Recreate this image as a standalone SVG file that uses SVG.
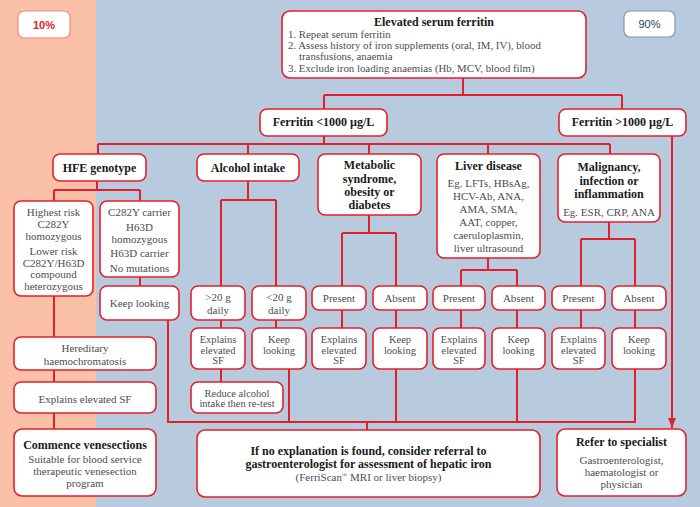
<svg xmlns="http://www.w3.org/2000/svg" width="700" height="507" viewBox="0 0 700 507">
<defs>
<marker id="arr" markerWidth="10" markerHeight="8" refX="10" refY="4" orient="auto" markerUnits="userSpaceOnUse" viewBox="0 0 10 8">
<path d="M0,0 L10,4 L0,8 Z" fill="#E3202A"/>
</marker>
<style>
.box{fill:#fff;stroke:#E3202A;stroke-width:1.6}
.h{font-family:"Liberation Serif",serif;font-weight:bold;font-size:12px;fill:#1a1a1a;text-anchor:middle}
.b{font-family:"Liberation Serif",serif;font-size:11px;fill:#4d4d4d;text-anchor:middle}
.s{font-family:"Liberation Serif",serif;font-size:10.5px;fill:#4d4d4d;text-anchor:middle}
.l{font-family:"Liberation Serif",serif;font-size:10.8px;fill:#4d4d4d}
.c{fill:none;stroke:#E3202A;stroke-width:2}
</style>
</defs>
<rect x="0" y="0" width="700" height="507" fill="#B8CADE"/>
<rect x="0" y="0" width="96" height="507" fill="#FBC1A8"/>

<g id="badge10"><rect x="18" y="11" width="52" height="27" rx="6" fill="#fff" stroke="#F08A8A" stroke-width="1.2"/><text x="44" y="28.5" font-family="Liberation Sans, sans-serif" font-weight="bold" font-size="11" fill="#E3202A" text-anchor="middle">10%</text></g>
<g id="badge90"><rect x="624" y="11" width="51" height="26" rx="6" fill="#fff" stroke="#7E98B8" stroke-width="1.2"/><text x="649.5" y="28" font-family="Liberation Sans, sans-serif" font-size="11" fill="#2B3E66" text-anchor="middle">90%</text></g>

<g id="connectors">
<path class="c" d="M463 78 V95 M324 95 H622 M324 95 V109 M622 95 V109"/>
<path class="c" d="M324 136 V144 M98 144 H610 M98 144 V154 M248 144 V154 M369 144 V154 M488 144 V154 M610 144 V154"/>
<path class="c" d="M97 181 V190 M54 190 H140 M54 190 V201 M140 190 V201 M140 277 V286"/>
<path class="c" d="M54 296 V337 M54 370 V382 M54 413 V429"/>
<path class="c" d="M168 320 V422 H636 M367 422 V430"/>
<path class="c" d="M248 181 V200 M221 200 H276 M221 200 V286 M276 200 V286 M221 320 V328 M276 320 V328 M221 369 V382 M289 369 V422"/>
<path class="c" d="M369 215 V233 M342 233 H396 M342 233 V286 M396 233 V286 M342 310 V328 M396 310 V328 M396 369 V422"/>
<path class="c" d="M488 258 V270 M461 270 H517 M461 270 V286 M517 270 V286 M461 310 V328 M517 310 V328 M517 369 V422"/>
<path class="c" d="M609 222 V239 M581 239 H635 M581 239 V286 M635 239 V286 M581 310 V328 M635 310 V328 M635 369 V422"/>
<path class="c" d="M672 136 V428" marker-end="url(#arr)"/>
</g>

<g id="start"><rect class="box" x="282" y="11" width="304" height="67" rx="8"/>
<text class="h" x="434" y="26">Elevated serum ferritin</text>
<text class="l" x="288" y="37.5">1. Repeat serum ferritin</text>
<text class="l" x="288" y="48.5">2. Assess history of iron supplements (oral, IM, IV), blood</text>
<text class="l" x="299" y="60">transfusions, anaemia</text>
<text class="l" x="288" y="72">3. Exclude iron loading anaemias (Hb, MCV, blood film)</text>
</g>

<g id="fer_low"><rect class="box" x="260" y="109" width="127" height="27" rx="7"/><text class="h" x="323.5" y="126">Ferritin &lt;1000 µg/L</text></g>
<g id="fer_high"><rect class="box" x="559" y="109" width="127" height="27" rx="7"/><text class="h" x="622.5" y="126">Ferritin &gt;1000 µg/L</text></g>

<g id="hfe"><rect class="box" x="53" y="154" width="93" height="27" rx="7"/><text class="h" x="99.5" y="171.5">HFE genotype</text></g>
<g id="alcohol"><rect class="box" x="197" y="154" width="102" height="27" rx="7"/><text class="h" x="248" y="171.5">Alcohol intake</text></g>
<g id="metabolic"><rect class="box" x="318" y="154" width="103" height="61" rx="7"/>
<text class="h" x="369.5" y="169">Metabolic</text><text class="h" x="369.5" y="183">syndrome,</text><text class="h" x="369.5" y="196">obesity or</text><text class="h" x="369.5" y="209">diabetes</text></g>
<g id="liver"><rect class="box" x="437" y="154" width="103" height="104" rx="7"/>
<text class="h" x="488.5" y="170">Liver disease</text>
<text class="b" x="488.5" y="187">Eg. LFTs, HBsAg,</text><text class="b" x="488.5" y="200">HCV-Ab, ANA,</text><text class="b" x="488.5" y="213">AMA, SMA,</text><text class="b" x="488.5" y="226">AAT, copper,</text><text class="b" x="488.5" y="239">caeruloplasmin,</text><text class="b" x="488.5" y="252">liver ultrasound</text></g>
<g id="malignancy"><rect class="box" x="558" y="154" width="102" height="68" rx="7"/>
<text class="h" x="609" y="171">Malignancy,</text><text class="h" x="609" y="185">infection or</text><text class="h" x="609" y="198">inflammation</text>
<text class="b" x="609" y="216">Eg. ESR, CRP, ANA</text></g>

<g id="high_risk"><rect class="box" x="14" y="201" width="79" height="95" rx="7"/>
<text class="b" x="53.5" y="216">Highest risk</text><text class="b" x="53.5" y="228">C282Y</text><text class="b" x="53.5" y="240">homozygous</text>
<text class="b" x="53.5" y="255">Lower risk</text><text class="b" x="53.5" y="267">C282Y/H63D</text><text class="b" x="53.5" y="278">compound</text><text class="b" x="53.5" y="290">heterozygous</text></g>
<g id="carrier"><rect class="box" x="100" y="201" width="79" height="76" rx="7"/>
<text class="b" x="139.5" y="216">C282Y carrier</text><text class="b" x="139.5" y="231">H63D</text><text class="b" x="139.5" y="243">homozygous</text><text class="b" x="139.5" y="257">H63D carrier</text><text class="b" x="139.5" y="272">No mutations</text></g>
<g id="hfe_keep"><rect class="box" x="100" y="286" width="79" height="34" rx="7"/><text class="b" x="139.5" y="307">Keep looking</text></g>
<g id="hh"><rect class="box" x="14" y="337" width="142" height="33" rx="7"/><text class="b" x="85" y="352">Hereditary</text><text class="b" x="85" y="365">haemochromatosis</text></g>
<g id="hfe_explains"><rect class="box" x="14" y="382" width="142" height="31" rx="7"/><text class="b" x="85" y="403">Explains elevated SF</text></g>
<g id="venesect"><rect class="box" x="14" y="429" width="142" height="67" rx="8"/>
<text class="h" x="85" y="449">Commence venesections</text>
<text class="b" x="85" y="463">Suitable for blood service</text><text class="b" x="85" y="475">therapeutic venesection</text><text class="b" x="85" y="487">program</text></g>

<g id="gt20"><rect class="box" x="191" y="286" width="54" height="34" rx="7"/><text class="b" x="218" y="301">&gt;20 g</text><text class="b" x="218" y="314">daily</text></g>
<g id="lt20"><rect class="box" x="252" y="286" width="54" height="34" rx="7"/><text class="b" x="279" y="301">&lt;20 g</text><text class="b" x="279" y="314">daily</text></g>
<g id="alc_explains"><rect class="box" x="191" y="328" width="54" height="41" rx="7"/><text class="s" x="218" y="343">Explains</text><text class="s" x="218" y="354">elevated</text><text class="s" x="218" y="364">SF</text></g>
<g id="alc_keep"><rect class="box" x="252" y="328" width="54" height="41" rx="7"/><text class="s" x="279" y="343">Keep</text><text class="s" x="279" y="354">looking</text></g>
<g id="reduce"><rect class="box" x="191" y="382" width="92" height="31" rx="7"/><text class="s" x="237" y="396.5">Reduce alcohol</text><text class="s" x="237" y="407">intake then re-test</text></g>

<g id="met_present"><rect class="box" x="312" y="286" width="54" height="24" rx="7"/><text class="b" x="339" y="302">Present</text></g>
<g id="met_absent"><rect class="box" x="373" y="286" width="54" height="24" rx="7"/><text class="b" x="400" y="302">Absent</text></g>
<g id="met_explains"><rect class="box" x="312" y="328" width="54" height="41" rx="7"/><text class="s" x="339" y="343">Explains</text><text class="s" x="339" y="354">elevated</text><text class="s" x="339" y="364">SF</text></g>
<g id="met_keep"><rect class="box" x="373" y="328" width="54" height="41" rx="7"/><text class="s" x="400" y="343">Keep</text><text class="s" x="400" y="354">looking</text></g>

<g id="liv_present"><rect class="box" x="433" y="286" width="52" height="24" rx="7"/><text class="b" x="459" y="302">Present</text></g>
<g id="liv_absent"><rect class="box" x="492" y="286" width="53" height="24" rx="7"/><text class="b" x="518.5" y="302">Absent</text></g>
<g id="liv_explains"><rect class="box" x="433" y="328" width="52" height="41" rx="7"/><text class="s" x="459" y="343">Explains</text><text class="s" x="459" y="354">elevated</text><text class="s" x="459" y="364">SF</text></g>
<g id="liv_keep"><rect class="box" x="492" y="328" width="53" height="41" rx="7"/><text class="s" x="518.5" y="343">Keep</text><text class="s" x="518.5" y="354">looking</text></g>

<g id="mal_present"><rect class="box" x="552" y="286" width="53" height="24" rx="7"/><text class="b" x="578.5" y="302">Present</text></g>
<g id="mal_absent"><rect class="box" x="612" y="286" width="54" height="24" rx="7"/><text class="b" x="639" y="302">Absent</text></g>
<g id="mal_explains"><rect class="box" x="552" y="328" width="53" height="41" rx="7"/><text class="s" x="578.5" y="343">Explains</text><text class="s" x="578.5" y="354">elevated</text><text class="s" x="578.5" y="364">SF</text></g>
<g id="mal_keep"><rect class="box" x="612" y="328" width="54" height="41" rx="7"/><text class="s" x="639" y="343">Keep</text><text class="s" x="639" y="354">looking</text></g>

<g id="no_explanation"><rect class="box" x="197" y="430" width="343" height="67" rx="8"/>
<text class="h" x="368.5" y="455">If no explanation is found, consider referral to</text>
<text class="h" x="368.5" y="468">gastroenterologist for assessment of hepatic iron</text>
<text class="b" x="368.5" y="481">(FerriScan<tspan font-size="7" dy="-4">®</tspan><tspan dy="4"> MRI or liver biopsy)</tspan></text></g>

<g id="specialist"><rect class="box" x="557" y="429" width="129" height="67" rx="8"/>
<text class="h" x="621.5" y="446">Refer to specialist</text>
<text class="b" x="621.5" y="464">Gastroenterologist,</text><text class="b" x="621.5" y="476">haematologist or</text><text class="b" x="621.5" y="488">physician</text></g>
</svg>
